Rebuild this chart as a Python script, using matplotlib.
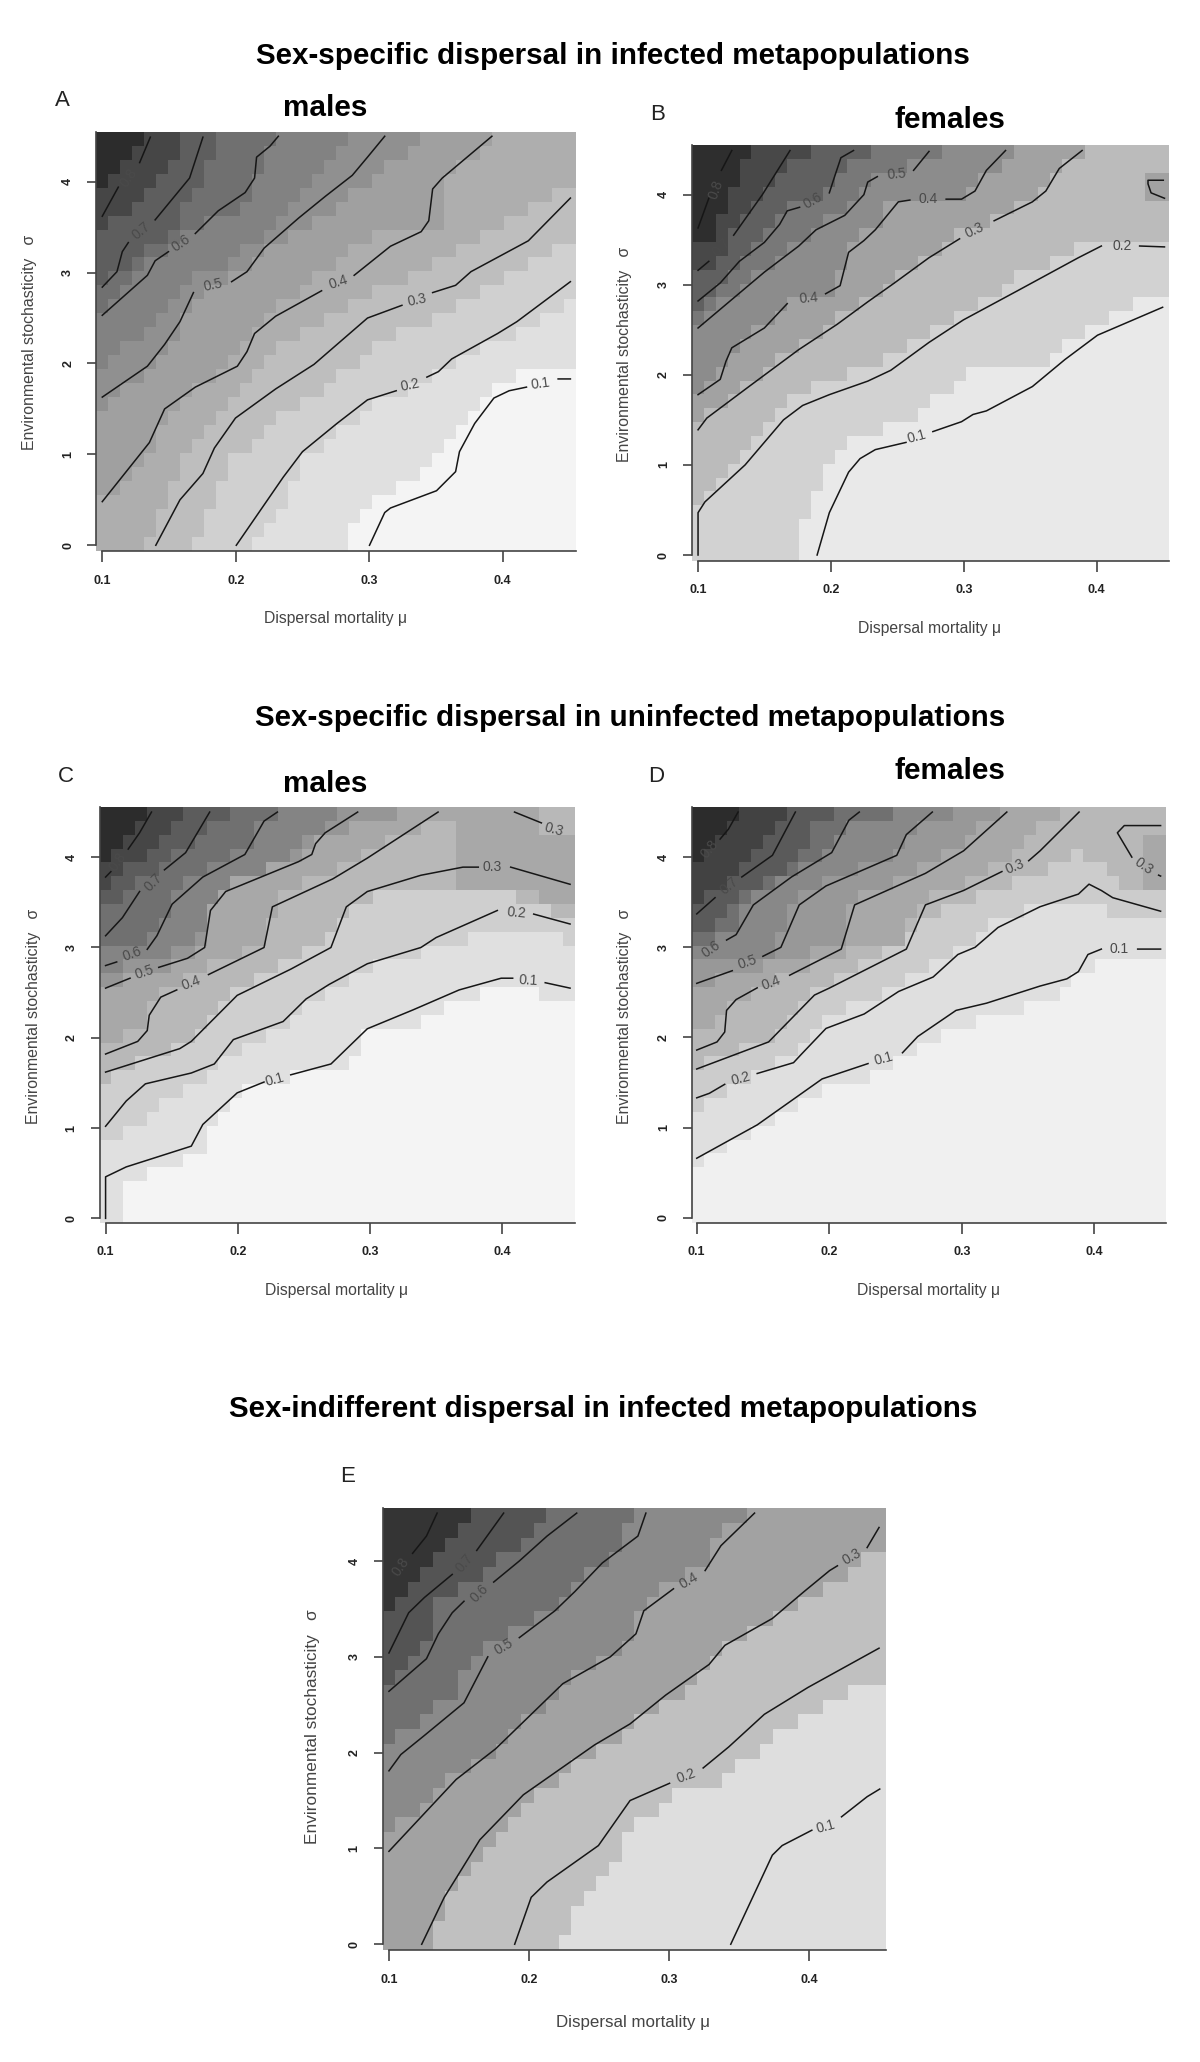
import numpy as np
import matplotlib
matplotlib.use("Agg")
import matplotlib.pyplot as plt
from matplotlib.colors import ListedColormap

plt.rcParams['font.family'] = ['Liberation Sans', 'DejaVu Sans']
GAP = (np.nan, np.nan)
X_TICKS = [0.1, 0.2, 0.3, 0.4]
X_TICK_LABELS = ['0.1', '0.2', '0.3', '0.4']
Y_TICKS = [0, 1, 2, 3, 4]
Y_TICK_LABELS = ['0', '1', '2', '3', '4']

# ---------- panel A: contour lines (mu, sigma) ----------
A_L08 = [(.100,3.62),(.112,3.94),GAP,(.128,4.21),(.136,4.49)]
A_L07 = [(.100,2.84),(.111,3.01),(.115,3.23),(.1195,3.33),GAP,(.1396,3.58),(.1654,4.04),(.1754,4.49)]
A_L06 = [(.100,2.53),(.1338,2.97),(.1396,3.13),(.1496,3.23),GAP,(.1697,3.43),(.1869,3.68),(.207,3.88),(.2141,4.04),(.2156,4.27),(.2256,4.39),(.2319,4.50)]
A_L05 = [(.100,1.63),(.1338,1.97),(.1467,2.21),(.1582,2.46),(.1683,2.78),GAP,(.1969,2.90),(.2084,3.01),(.2213,3.27),(.2471,3.60),(.2672,3.84),(.2873,4.07),(.2987,4.27),(.3116,4.50)]
A_L04 = [(.100,.48),(.1353,1.13),(.1467,1.50),(.1697,1.74),(.2012,1.97),(.2084,2.13),(.2141,2.33),(.2299,2.52),(.2643,2.80),GAP,(.2887,2.97),(.3159,3.29),(.3389,3.45),(.3446,3.57),(.3475,3.92),(.3547,4.04),(.3919,4.50)]
A_L03 = [(.1401,0),(.1582,.50),(.1754,.79),(.184,1.07),(.1998,1.40),(.2299,1.72),(.2586,1.99),(.2987,2.50),(.3245,2.64),GAP,(.3475,2.78),(.3647,2.86),(.3762,3.01),(.4192,3.35),(.4507,3.82)]
A_L02 = [(.2004,0),(.2356,.75),(.25,1.03),(.2758,1.34),(.2987,1.60),(.3202,1.70),GAP,(.3432,1.85),(.3518,1.91),(.3618,2.05),(.3962,2.33),(.4106,2.46),(.4507,2.90)]
A_L01 = [(.3002,0),(.3116,.36),(.3159,.41),(.3504,.60),(.3647,.81),(.3676,1.03),(.379,1.34),(.3934,1.62),(.4048,1.70),(.4178,1.74),GAP,(.4415,1.83),(.4507,1.83)]
A_LINES = [A_L08, A_L07, A_L06, A_L05, A_L04, A_L03, A_L02, A_L01]
A_LABELS = [('0.8',.120,4.04,55),('0.7',.1295,3.46,40),('0.6',.1588,3.32,35),('0.5',.183,2.86,12),('0.4',.277,2.89,18),('0.3',.336,2.70,12),('0.2',.331,1.76,12),('0.1',.428,1.78,8)]
# panel A: band boundaries, lightest to darkest
A_E1 = [(.284,-.1),(.293,.42),(.3475,.87),(.373,1.44),(.392,1.76),(.436,2.0),(.46,2.0)]
A_E2 = [(.211,-.1),(.23,.3),(.247,.87),(.2815,1.32),(.31,1.60),(.3475,1.85),(.382,2.13),(.419,2.42),(.455,2.70)]
A_E3 = [(.167,-.1),(.193,.87),(.23,1.36),(.276,1.85),(.31,2.21),(.3475,2.5),(.382,2.74),(.419,3.13),(.455,3.39)]
A_E4 = [(.131,-.1),(.158,.87),(.175,1.28),(.23,2.13),(.276,2.54),(.31,2.82),(.3475,3.07),(.382,3.39),(.419,3.72),(.455,3.98)]
A_E5 = [(.095,.42),(.114,.66),(.132,.87),(.15,1.44),(.175,1.76),(.203,2.13),(.23,2.62),(.276,3.15),(.31,3.43),(.356,3.55),(.359,4.04),(.393,4.6)]
A_E6 = [(.095,1.32),(.104,1.56),(.132,1.9),(.15,2.17),(.175,2.82),(.203,3.03),(.23,3.31),(.276,3.72),(.31,4.1),(.339,4.6)]
A_E7 = [(.095,1.89),(.114,2.13),(.141,2.5),(.167,2.9),(.203,3.2),(.238,3.64),(.267,4.17),(.284,4.6)]
A_E8 = [(.095,2.54),(.132,3.07),(.158,3.4),(.203,3.72),(.221,4.17),(.23,4.6)]
A_E9 = [(.095,2.82),(.12,3.1),(.15,3.45),(.175,4.0),(.185,4.6)]
A_E10 = [(.095,3.39),(.122,3.72),(.15,4.13),(.158,4.6)]
A_E11 = [(.095,3.86),(.122,4.4),(.131,4.6)]
A_EDGES = [A_E1,A_E2,A_E3,A_E4,A_E5,A_E6,A_E7,A_E8,A_E9,A_E10,A_E11]
A_GREYS = ['#f4f4f4','#e0e0e0','#d0d0d0','#bebebe','#aeaeae','#a0a0a0','#909090','#828282','#707070','#5e5e5e','#464646','#2c2c2c']

# ---------- panel B ----------
B_L08 = [(.100,3.63),(.1081,3.96),GAP,(.1176,4.27),(.1254,4.49)]
B_L07 = [(.100,3.16),(.1081,3.26),GAP,(.1268,3.55),(.1484,4.0),(.1692,4.49)]
B_L06 = [(.100,2.82),(.1167,3.02),(.1311,3.26),(.1499,3.47),(.1614,3.67),(.1671,3.82),(.1764,3.86),GAP,(.1988,4.02),(.2023,4.18),(.2075,4.41),(.217,4.49)]
B_L05 = [(.100,2.52),(.1499,3.14),(.1758,3.43),(.1888,3.61),(.2104,3.77),(.2248,4.0),(.2277,4.14),(.2349,4.2),GAP,(.2622,4.27),(.2738,4.48)]
B_L04 = [(.100,1.78),(.1167,1.95),(.121,2.15),(.1254,2.30),(.1499,2.52),(.1671,2.79),GAP,(.196,2.90),(.2069,2.99),(.2133,3.36),(.2248,3.49),(.2334,3.61),(.2507,3.92),(.2594,3.94),GAP,(.2867,3.95),(.2983,3.95),(.3084,4.04),(.317,4.27),(.3314,4.49)]
B_L03 = [(.100,1.39),(.1066,1.52),(.1383,1.87),(.1758,2.28),(.2046,2.56),(.2277,2.81),(.2478,3.02),(.2738,3.30),(.2968,3.51),GAP,(.3228,3.71),(.3516,3.92),(.3617,4.04),(.3718,4.29),(.389,4.49)]
B_L03B = [(.4501,4.16),(.4386,4.16),(.4386,4.12),(.4409,4.02),(.451,3.96)]
B_L02 = [(.100,0),(.100,.47),(.1052,.59),(.1354,1.0),(.1643,1.5),(.1787,1.66),(.1988,1.78),(.2277,1.93),(.245,2.05),(.2738,2.36),(.2997,2.61),(.34,2.93),(.3862,3.30),(.4035,3.43),GAP,(.4323,3.43),(.451,3.42)]
B_L01 = [(.1896,0),(.1988,.47),(.2133,.92),(.2219,1.07),(.2334,1.17),(.2565,1.25),GAP,(.2767,1.37),(.2983,1.48),(.3069,1.56),(.317,1.60),(.3516,1.87),(.3761,2.17),(.4006,2.44),(.4496,2.75)]
B_LINES = [B_L08,B_L07,B_L06,B_L05,B_L04,B_L03,B_L03B,B_L02,B_L01]
B_LABELS = [('0.8',.1133,4.06,70),('0.7',.1176,3.41,45),('0.6',.1867,3.93,30),('0.5',.2493,4.23,5),('0.4',.2732,3.95,0),('0.4',.1836,2.85,5),('0.3',.3084,3.6,25),('0.2',.4193,3.43,0),('0.1',.2646,1.31,15)]
B_E1 = [(.1758,-.1),(.1758,.16),(.1844,.51),(.1945,.96),(.2032,1.09),(.2219,1.31),(.2478,1.44),(.2651,1.56),(.2925,1.89),(.3012,2.01),(.3559,2.11),(.3746,2.34),(.4006,2.58),(.428,2.81),(.4452,2.93),(.46,2.93)]
B_E2 = [(.095,.51),(.1311,1.09),(.1398,1.21),(.1571,1.56),(.1844,1.87),(.2392,2.13),(.2752,2.46),(.3112,2.81),(.3372,3.06),(.3833,3.38),(.4006,3.53),(.4294,3.47),(.4545,3.39)]
B_E3 = [(.095,1.44),(.1383,1.91),(.1758,2.32),(.2046,2.61),(.2277,2.85),(.2738,3.34),(.2968,3.55),(.3228,3.75),(.3516,3.96),(.3617,4.12),(.3905,4.6)]
B_E4 = [(.095,1.78),(.1124,1.93),(.121,2.19),(.1499,2.56),(.1671,2.85),(.2017,2.85),(.2104,3.38),(.2334,3.67),(.2507,4.0),(.2968,4.0),(.3084,4.10),(.3372,4.6)]
B_E5 = [(.095,2.36),(.1037,2.61),(.1499,3.18),(.1758,3.47),(.1888,3.65),(.2104,3.84),(.2248,4.04),(.2277,4.18),(.2565,4.29),(.2824,4.6)]
B_E6 = [(.095,2.71),(.1124,2.93),(.1311,3.26),(.1499,3.51),(.1671,3.88),(.196,4.04),(.2017,4.25),(.2291,4.6)]
B_E7 = [(.095,3.06),(.1124,3.22),(.1268,3.59),(.1499,4.04),(.1758,4.45),(.1844,4.6)]
B_E8 = [(.095,3.38),(.1124,3.51),(.121,3.92),(.1297,4.16),(.1398,4.6)]
B_EDGES = [B_E1,B_E2,B_E3,B_E4,B_E5,B_E6,B_E7,B_E8]
B_GREYS = ['#e9e9e9','#d2d2d2','#bbbbbb','#a2a2a2','#8c8c8c','#787878','#606060','#484848','#2e2e2e']
B_PATCH = [(.4386,.4545,3.97,4.2,1)]

# ---------- panel C ----------
C_L08 = [(.100,3.78),(.104,3.84),GAP,(.1171,4.09),(.1257,4.27),(.1347,4.5)]
C_L07 = [(.100,3.13),(.1127,3.33),(.1257,3.62),GAP,(.1445,3.86),(.1605,4.05),(.1787,4.5)]
C_L06 = [(.100,2.80),(.1084,2.84),GAP,(.1315,2.98),(.1388,3.13),(.1503,3.48),(.1735,3.78),(.2053,4.03),(.2198,4.40),(.2299,4.5)]
C_L05 = [(.100,2.55),(.1185,2.66),GAP,(.1402,2.78),(.1619,2.88),(.1749,3.0),(.1793,3.41),(.1908,3.62),(.2458,3.95),(.2559,4.03),(.2588,4.15),(.266,4.27),(.2906,4.5)]
C_L04 = [(.100,1.82),(.1243,1.96),(.1315,2.08),(.133,2.25),(.1417,2.45),(.1538,2.53),GAP,(.1778,2.70),(.2198,3.0),(.2261,3.45),(.2718,3.76),(.2979,3.99),(.3514,4.5)]
C_L03 = [(.100,1.62),(.1561,1.88),(.1648,1.96),(.1995,2.47),(.24,2.76),(.2704,3.0),(.282,3.45),(.2979,3.62),(.3384,3.80),(.3702,3.89),(.3818,3.89),GAP,(.4063,3.89),(.4512,3.70)]
C_L03B = [(.4092,4.5),(.4295,4.38)]
C_L02 = [(.100,1.02),(.1156,1.30),(.1301,1.49),(.1648,1.61),(.1822,1.71),(.1966,1.98),(.2342,2.18),(.2516,2.43),(.2689,2.59),(.2979,2.82),(.3384,3.0),(.3499,3.11),(.3962,3.41),GAP,(.4237,3.37),(.4512,3.26)]
C_L01 = [(.100,0),(.100,.46),(.1156,.57),(.1648,.80),(.1735,1.04),(.1995,1.39),(.2198,1.51),GAP,(.24,1.59),(.2704,1.71),(.2979,2.10),(.3326,2.31),(.3673,2.53),(.3991,2.66),(.4078,2.66),GAP,(.4324,2.61),(.4512,2.55)]
C_LINES = [C_L08,C_L07,C_L06,C_L05,C_L04,C_L03,C_L03B,C_L02,C_L01]
C_LABELS = [('0.8',.1093,3.95,55),('0.7',.1359,3.72,45),('0.6',.12,2.93,20),('0.5',.1295,2.73,18),('0.4',.1648,2.61,20),('0.3',.3925,3.89,0),('0.3',.4387,4.30,-15),('0.2',.4107,3.38,-5),('0.1',.2279,1.54,15),('0.1',.4193,2.63,-3)]
C_E1 = [(.1133,-.1),(.1133,.30),(.1315,.52),(.1576,.63),(.1749,.75),(.1749,1.0),(.1937,1.28),(.2111,1.45),(.2516,1.59),(.2834,1.69),(.295,2.02),(.3355,2.14),(.3644,2.39),(.3991,2.59),(.428,2.47),(.46,2.47)]
C_E2 = [(.0954,.85),(.1315,1.04),(.1402,1.2),(.1576,1.41),(.185,1.69),(.2111,1.9),(.2516,2.35),(.2805,2.64),(.3152,2.84),(.3384,2.96),(.3731,3.09),(.3919,3.17),(.4367,3.17),(.455,3.05)]
C_E3 = [(.0954,1.45),(.1127,1.61),(.1402,1.82),(.1677,2.02),(.185,2.27),(.1995,2.51),(.24,2.84),(.2689,3.09),(.2834,3.5),(.3239,3.66),(.3818,3.64),(.4193,3.54),(.4367,3.39),(.455,3.39)]
C_E4 = [(.0954,1.94),(.1243,2.06),(.1315,2.35),(.159,2.64),(.1764,2.76),(.2198,3.09),(.2284,3.54),(.2718,3.86),(.3094,4.15),(.3644,4.6)]
C_E5 = [(.0954,2.55),(.1185,2.68),(.159,2.84),(.1735,3.05),(.1764,3.5),(.1908,3.66),(.2458,4.03),(.2602,4.23),(.3196,4.6)]
C_E6 = [(.0954,2.68),(.1315,2.88),(.1648,3.0),(.1749,3.33),(.1822,3.58),(.2227,3.91),(.2458,4.11),(.2747,4.6)]
C_E7 = [(.0954,2.94),(.1315,3.07),(.1417,3.29),(.1532,3.58),(.1735,3.86),(.2053,4.11),(.2198,4.44),(.2342,4.6)]
C_E8 = [(.0954,3.43),(.1127,3.58),(.1417,3.86),(.159,4.11),(.1937,4.6)]
C_E9 = [(.0954,3.66),(.1214,3.95),(.1474,4.27),(.1576,4.6)]
C_E10 = [(.0954,3.89),(.1214,4.31),(.1315,4.6)]
C_EDGES = [C_E1,C_E2,C_E3,C_E4,C_E5,C_E6,C_E7,C_E8,C_E9,C_E10]
C_GREYS = ['#f4f4f4','#e0e0e0','#cfcfcf','#b8b8b8','#a8a8a8','#969696','#848484','#707070','#5c5c5c','#464646','#2c2c2c']
C_PATCH = [(.365,.425,3.68,4.6,1),(.425,.4549,3.42,4.3,1)]

# ---------- panel D ----------
D_L08 = [(.1176,4.2),(.1239,4.31),(.1312,4.5)]
D_L07 = [(.100,3.37),(.1138,3.55),GAP,(.134,3.78),(.1571,4.02),(.1744,4.5)]
D_L06 = [(.1225,3.08),(.1297,3.14),(.1427,3.47),(.1715,3.78),(.2018,4.05),(.2148,4.41),(.2226,4.5)]
D_L05 = [(.100,2.60),(.1268,2.74),GAP,(.1499,2.90),(.1635,3.0),(.1773,3.47),(.1975,3.68),(.2509,4.02),(.2581,4.25),(.2777,4.5)]
D_L04 = [(.100,1.86),(.1153,1.95),(.1211,2.06),(.1225,2.30),(.1297,2.42),(.1456,2.55),GAP,(.1701,2.69),(.209,2.98),(.2191,3.47),(.2725,3.82),(.3013,4.07),(.3339,4.5)]
D_L03 = [(.100,1.65),(.1542,1.95),(.1888,2.47),(.2004,2.55),(.2581,2.98),(.2725,3.47),(.3013,3.63),(.3302,3.84),GAP,(.3504,3.96),(.359,4.07),(.3884,4.5)]
D_L03B = [(.4499,4.35),(.4225,4.35),(.4173,4.27),(.4282,4.0)]
D_L03C = [(.4484,3.8),(.4499,3.79)]
D_L02 = [(.100,1.33),(.1095,1.38),(.1211,1.48),GAP,(.1456,1.60),(.173,1.72),(.1787,1.81),(.1975,2.10),(.2263,2.26),(.2523,2.51),(.2783,2.67),(.297,2.92),(.31,3.0),(.3273,3.22),(.359,3.45),(.3879,3.59),(.3959,3.70),(.4052,3.63),(.4138,3.55),(.4499,3.40)]
D_L01 = [(.100,.66),(.1456,1.03),(.1946,1.54),(.2292,1.71),GAP,(.2552,1.83),(.2667,2.01),(.2956,2.30),(.3186,2.38),(.359,2.57),(.3792,2.65),(.3879,2.73),(.3951,2.92),(.4052,2.98),GAP,(.4326,2.98),(.4499,2.98)]
D_LINES = [D_L08,D_L07,D_L06,D_L05,D_L04,D_L03,D_L03B,D_L03C,D_L02,D_L01]
D_LABELS = [('0.8',.1095,4.09,50),('0.7',.1248,3.68,40),('0.6',.111,2.98,35),('0.5',.1384,2.83,18),('0.4',.1562,2.60,20),('0.3',.3397,3.89,22),('0.3',.4369,3.90,-35),('0.2',.1335,1.54,15),('0.1',.2413,1.77,15),('0.1',.4187,2.98,0)]
D_E1 = [(.0957,.52),(.1052,.64),(.1312,.85),(.1586,1.11),(.1946,1.42),(.2292,1.56),(.2566,1.79),(.2739,1.99),(.3287,2.26),(.3734,2.47),(.3907,2.71),(.3994,2.83),(.4542,2.83)]
D_E2 = [(.0957,1.09),(.1225,1.42),(.1485,1.65),(.1744,1.77),(.2004,2.26),(.2292,2.40),(.2667,2.75),(.3013,3.04),(.3273,3.29),(.3677,3.49),(.3994,3.53),(.4268,3.29),(.4542,3.29)]
D_E3 = [(.0957,1.69),(.1138,1.77),(.1571,2.01),(.1831,2.51),(.2292,2.83),(.2581,3.08),(.2754,3.37),(.3013,3.53),(.3302,3.66),(.3677,3.90),(.3907,4.09),(.4023,3.90),(.4282,3.66),(.4542,3.63)]
D_E4 = [(.0957,2.01),(.1138,2.10),(.1225,2.38),(.1571,2.63),(.209,2.92),(.2581,3.08),(.2667,3.49),(.3013,3.70),(.3302,3.98),(.3734,4.6)]
D_E5 = [(.0957,2.59),(.1225,2.67),(.1629,2.83),(.209,3.08),(.2177,3.53),(.2725,3.90),(.3013,4.15),(.3287,4.6)]
D_E6 = [(.0957,2.83),(.16,2.94),(.1687,3.37),(.1802,3.61),(.2494,4.02),(.2552,4.27),(.2927,4.6)]
D_E7 = [(.0957,2.96),(.1225,3.12),(.1427,3.53),(.1715,3.82),(.2004,4.07),(.2119,4.39),(.248,4.6)]
D_E8 = [(.0957,3.16),(.1225,3.33),(.1427,3.66),(.1744,3.94),(.1888,4.31),(.2033,4.6)]
D_E9 = [(.0957,3.39),(.111,3.61),(.1485,4.07),(.1672,4.6)]
D_E10 = [(.0957,3.86),(.1138,4.11),(.1312,4.6)]
D_EDGES = [D_E1,D_E2,D_E3,D_E4,D_E5,D_E6,D_E7,D_E8,D_E9,D_E10]
D_GREYS = ['#f0f0f0','#dfdfdf','#cccccc','#b8b8b8','#a8a8a8','#989898','#888888','#707070','#5a5a5a','#424242','#2c2c2c']
D_PATCH = [(.4369,.4542,3.63,4.21,1)]

# ---------- panel E ----------
E_L08 = [(.1169,4.08),(.1268,4.26),(.1344,4.5)]
E_L07 = [(.100,3.04),(.1141,3.46),(.1254,3.62),(.1452,3.86),GAP,(.1627,4.11),(.1819,4.5)]
E_L06 = [(.100,2.64),(.1268,2.98),(.1353,3.24),(.1452,3.46),(.1536,3.58),GAP,(.1748,3.78),(.1931,4.0),(.2129,4.26),(.2341,4.5)]
E_L05 = [(.100,1.81),(.1085,1.98),(.1254,2.18),(.1536,2.52),(.1621,2.76),(.1706,3.0),GAP,(.1931,3.2),(.2185,3.48),(.2327,3.68),(.2524,3.98),(.2778,4.26),(.2835,4.5)]
E_L04 = [(.100,.97),(.148,1.72),(.1762,2.04),(.1988,2.36),(.2242,2.72),(.2581,3.0),(.2764,3.24),(.282,3.48),(.3032,3.71),GAP,(.3258,3.9),(.3371,4.16),(.3611,4.5)]
E_L03 = [(.1234,0),(.1395,.49),(.148,.69),(.1649,1.09),(.196,1.56),(.2468,2.08),(.2722,2.30),(.2976,2.6),(.3286,2.92),(.3399,3.12),(.3738,3.40),(.3964,3.68),(.4147,3.9),(.4203,3.95),GAP,(.4415,4.14),(.45,4.35)]
E_L02 = [(.1898,0),(.2016,.49),(.2129,.65),(.2496,1.03),(.2722,1.5),(.3004,1.68),GAP,(.3244,1.84),(.3427,2.06),(.3681,2.40),(.3992,2.68),(.45,3.09)]
E_L01 = [(.3441,0),(.3738,.93),(.3808,1.03),(.402,1.19),GAP,(.4232,1.33),(.4415,1.54),(.4505,1.62)]
E_LINES = [E_L08,E_L07,E_L06,E_L05,E_L04,E_L03,E_L02,E_L01]
E_LABELS = [('0.8',.1085,3.94,55),('0.7',.1542,3.98,50),('0.6',.1644,3.66,45),('0.5',.1819,3.11,30),('0.4',.3139,3.79,30),('0.3',.4308,4.04,30),('0.2',.3125,1.76,20),('0.1',.4119,1.23,15)]
E_E1 = [(.2214,-.1),(.2298,.17),(.2397,.49),(.2566,.73),(.2651,1.01),(.2835,1.31),(.3018,1.54),(.3371,1.72),(.3822,2.24),(.4076,2.44),(.4358,2.71),(.4548,2.71)]
E_E2 = [(.131,-.1),(.1409,.41),(.1579,.77),(.1762,1.09),(.1861,1.33),(.2496,2.04),(.3117,2.68),(.3371,3.08),(.3907,3.52),(.4189,3.80),(.4457,4.08),(.4548,4.08)]
E_E3 = [(.0958,1.09),(.1226,1.43),(.148,1.76),(.1762,2.0),(.2214,2.68),(.2609,3.04),(.275,3.28),(.2835,3.62),(.3272,3.96),(.3371,4.3),(.3554,4.6)]
E_E4 = [(.0958,2.02),(.1127,2.24),(.131,2.4),(.1508,2.72),(.1621,3.04),(.1931,3.28),(.2214,3.56),(.244,3.88),(.2665,4.2),(.275,4.6)]
E_E5 = [(.0958,2.72),(.1141,2.92),(.131,3.24),(.1325,3.52),(.1621,3.84),(.2016,4.28),(.2115,4.6)]
E_E6 = [(.0958,3.40),(.1042,3.64),(.1226,3.88),(.1409,4.2),(.1587,4.6)]
E_EDGES = [E_E1,E_E2,E_E3,E_E4,E_E5,E_E6]
E_GREYS = ['#dedede','#c0c0c0','#a2a2a2','#8a8a8a','#707070','#545454','#343434']

W, H = 1200, 2062
fig = plt.figure(figsize=(W/100, H/100), dpi=100, facecolor='white')


def ftext(px, py, s, **kw):
    return fig.text(px/W, 1-py/H, s, ha='center', va='center', **kw)


def panel(rect, xlim, ylim, lines, labels, edges, greys, patches=()):
    x0, x1, y0, y1 = rect
    ax = fig.add_axes([x0/W, 1-y1/H, (x1-x0)/W, (y1-y0)/H])
    mu_e = np.linspace(xlim[0], xlim[1], 41)
    sg_e = np.linspace(ylim[0], ylim[1], 31)
    mu_c = (mu_e[:-1]+mu_e[1:])/2
    sg_c = (sg_e[:-1]+sg_e[1:])/2
    Z = np.zeros((30, 40))
    for e in edges:
        a = np.array(e)
        # a boundary that leaves through the top or bottom does so at the outermost row of cells
        a[a[:, 1] >= 4.6, 1] = sg_c[-1] + .01
        a[a[:, 1] <= -.1, 1] = sg_c[0] - .005
        b = np.interp(mu_c, a[:, 0], a[:, 1])
        Z += sg_c[:, None] > b[None, :]
    for (m0, m1, s0, s1, d) in patches:
        Z[np.ix_((sg_c > s0) & (sg_c < s1), (mu_c > m0) & (mu_c < m1))] += d
    ax.pcolormesh(mu_e, sg_e, Z, cmap=ListedColormap(greys), vmin=-.5, vmax=len(greys)-.5, rasterized=True)
    for ln in lines:
        a = np.array(ln)
        ax.plot(a[:, 0], a[:, 1], color='#161616', lw=1.1, solid_joinstyle='round', clip_on=False)
    for (t, m, s, r) in labels:
        ax.text(m, s, t, ha='center', va='center', rotation=r, fontsize=10, color='#4a4a4a', rotation_mode='anchor')
    ax.set_xlim(xlim)
    ax.set_ylim(ylim)
    ax.set_xticks(X_TICKS, X_TICK_LABELS)
    ax.set_yticks(Y_TICKS, Y_TICK_LABELS)
    ax.tick_params(axis='x', length=7.6, width=1.2, color='#444444', pad=9.4, labelsize=9, labelcolor='#222222')
    ax.tick_params(axis='y', length=6.7, width=1.2, color='#444444', pad=9, labelsize=9, labelcolor='#222222')
    for lab in ax.get_xticklabels():
        lab.set_fontweight('bold')
    for lab in ax.get_yticklabels():
        lab.set_fontweight('bold')
        lab.set_rotation(90)
        lab.set_va('center')
    for sp in ('top', 'right'):
        ax.spines[sp].set_visible(False)
    ax.spines['left'].set_bounds(0, ylim[1])
    ax.spines['bottom'].set_bounds(0.1, xlim[1])
    for sp in ('left', 'bottom'):
        ax.spines[sp].set_color('#444444')
        ax.spines[sp].set_linewidth(1.2)
    return ax


panel((96, 576, 131.7, 551), (.0953, .4549), (-.063, 4.55), A_LINES, A_LABELS, A_EDGES, A_GREYS)
panel((691.8, 1169, 145.1, 560.7), (.0953, .4544), (-.063, 4.55), B_LINES, B_LABELS, B_EDGES, B_GREYS, B_PATCH)
panel((99.5, 575.1, 807, 1222.8), (.0954, .455), (-.049, 4.556), C_LINES, C_LABELS, C_EDGES, C_GREYS, C_PATCH)
panel((691.7, 1166.3, 807, 1222.7), (.0962, .4542), (-.055, 4.556), D_LINES, D_LABELS, D_EDGES, D_GREYS, D_PATCH)
panel((382.5, 885.9, 1508.3, 1950), (.0954, .4549), (-.06, 4.55), E_LINES, E_LABELS, E_EDGES, E_GREYS)

TITLES = ['Sex-specific dispersal in infected metapopulations',
          'Sex-specific dispersal in uninfected metapopulations',
          'Sex-indifferent dispersal in infected metapopulations']
for t, (px, py) in zip(TITLES, [(612.5, 55.5), (630, 718), (603, 1409)]):
    ftext(px, py, t, fontsize=21.3, fontweight='bold', color='black')
for t, (px, py) in zip(['males', 'females', 'males', 'females'], [(325.3, 107.5), (950, 119.5), (325.3, 784), (950, 771)]):
    ftext(px, py, t, fontsize=21.4, fontweight='bold', color='black')
for t, (px, py) in zip('ABCDE', [(62.4, 101), (658, 115), (65.8, 777), (656.6, 777), (347.3, 1476)]):
    ftext(px, py, t, fontsize=16, color='#222222')
for (px, py, fs) in [(335.6, 618.6, 11.3), (929.9, 628.3, 11.3), (336.7, 1291, 11.3), (928.3, 1290.5, 11.3), (633.2, 2022, 12.2)]:
    ftext(px, py, 'Dispersal mortality \u03bc', fontsize=fs, color='#444444')
for (px, py, fs) in [(29.8, 342, 11.4), (624.9, 354, 11.4), (33.7, 1016, 11.4), (624.9, 1016, 11.4), (312.9, 1727, 12.4)]:
    ftext(px, py, 'Environmental stochasticity   \u03c3', fontsize=fs, color='#444444', rotation=90)

fig.savefig('out.png', dpi=100, facecolor='white')
